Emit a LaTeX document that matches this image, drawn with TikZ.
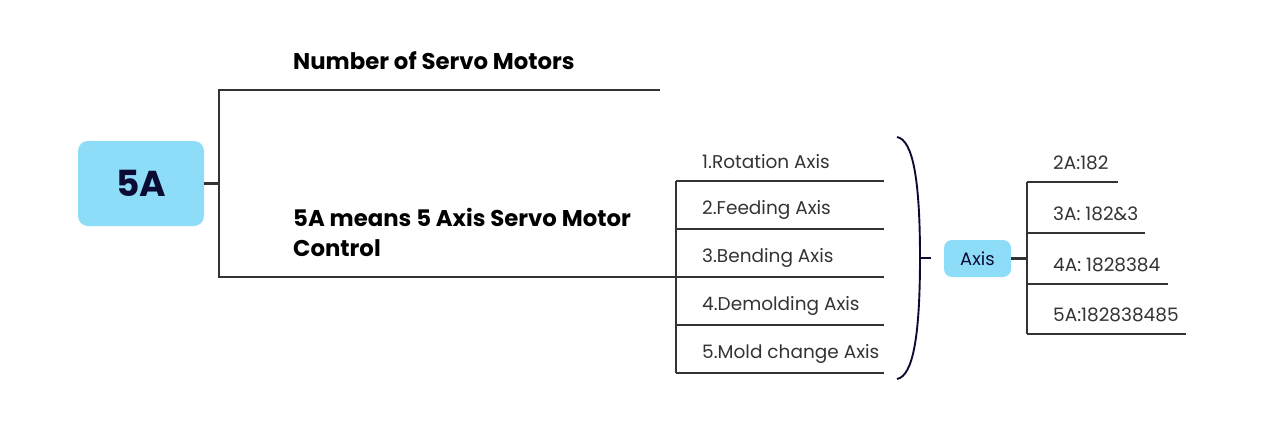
\documentclass[tikz,border=0pt]{standalone}
\usepackage{fontspec}
\setmainfont{Poppins}
\definecolor{boxblue}{HTML}{8EDDF8}
\definecolor{linegray}{HTML}{333333}
\definecolor{navy}{HTML}{0B0B33}
\definecolor{txtgray}{HTML}{333333}
\tikzset{
  conn/.style={draw=linegray, line width=2.6pt},
  rootbox/.style={fill=boxblue, rounded corners=10pt, minimum width=126pt, minimum height=85pt, inner sep=0pt,
     text=navy, font=\fontsize{36}{40}\selectfont\bfseries},
  axisbox/.style={fill=boxblue, rounded corners=8pt, minimum width=67pt, minimum height=37pt, inner sep=0pt,
     text=navy, font=\fontsize{18}{20}\selectfont},
  boldlbl/.style={anchor=west, inner sep=0pt, text=black, font=\fontsize{22.8}{30}\selectfont\bfseries, align=left},
  lbl/.style={anchor=west, inner sep=0pt, text=txtgray, font=\fontsize{18.5}{20}\selectfont},
  bracestyle/.style={draw=navy, line width=1.9pt}
}
\begin{document}
\begin{tikzpicture}[x=1pt,y=-1pt]
\useasboundingbox (0,0) rectangle (1270,432);
% root
\node[rootbox] (root) at (141,183.5) {5A};
\coordinate (j1) at (219,183.5);
\coordinate (ta) at (219,90);
\coordinate (tb) at (660,90);
\coordinate (ba) at (219,277);
\coordinate (bb) at (676,277);
\draw[conn] (root.east) -- (j1);
\draw[conn] (tb) -- (ta) -- (ba) -- (bb);
\node[boldlbl] (t1) at (293,61) {Number of Servo Motors};
\node[boldlbl, anchor=north west] (t2) at (293,208) {5A means 5 Axis Servo Motor\\Control};
% axis list
\coordinate (v1) at (676,181);
\coordinate (v5) at (676,373);
\draw[conn] (v1) -- (v5);
\foreach \i/\y/\t in {1/181/1.Rotation Axis,2/229/2.Feeding Axis,3/277/3.Bending Axis,4/325/4.Demolding Axis,5/373/5.Mold change Axis}{
  \coordinate (h\i a) at (676,\y);
  \coordinate (h\i b) at (884,\y);
  \draw[conn] (h\i a) -- (h\i b);
  \node[lbl] (a\i) at (702,\y-19.5) {\t};
}
% brace (parenthesis)
\coordinate (btip) at (920,258);
\coordinate (bend) at (931,258);
\draw[bracestyle] (897,137) .. controls (913,140) and (920,180) .. (btip)
  .. controls (920,336) and (913,376) .. (897,379);
\draw[line width=1.6pt, draw=navy] (btip) -- (bend);
% axis node
\node[axisbox] (axis) at (977.5,258.5) {Axis};
\coordinate (k) at (1027,258.5);
\coordinate (k1) at (1027,182);
\coordinate (k4) at (1027,334);
\draw[conn] (axis.east) -- (k);
\draw[conn] (k1) -- (k4);
\foreach \i/\y/\x/\t in {1/182/1118/2A:182,2/233/1145/3A: 182\&3,3/284/1168/4A: 1828384,4/334/1186/5A:182838485}{
  \coordinate (g\i a) at (1027,\y);
  \coordinate (g\i b) at (\x,\y);
  \draw[conn] (g\i a) -- (g\i b);
  \node[lbl] (c\i) at (1053,\y-19.5) {\t};
}
\end{tikzpicture}
\end{document}
